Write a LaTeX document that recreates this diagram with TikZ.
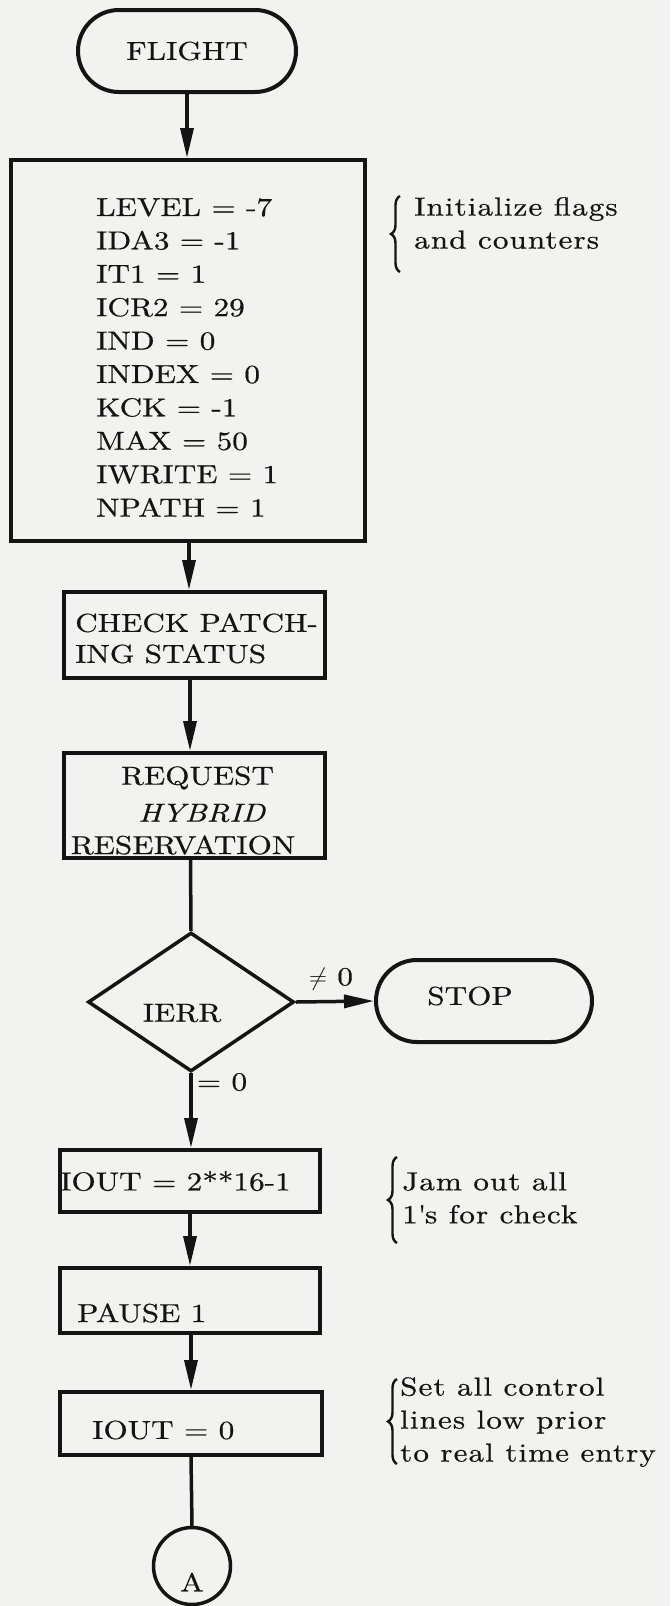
\documentclass[tikz,border=0pt]{standalone}
\usepackage{fontspec}
\setmainfont{lmroman10-regular}[Extension=.otf, ItalicFont=lmroman10-italic, FakeStretch=1.2, FakeBold=0.6]
\newfontfamily\notefont{lmroman10-regular}[Extension=.otf, FakeStretch=1.2, FakeBold=0.6, LetterSpace=4]
\usetikzlibrary{shapes.misc,shapes.geometric,arrows.meta,decorations.pathreplacing}
\definecolor{paper}{RGB}{242,242,240}
\definecolor{ink}{RGB}{20,20,20}
\begin{document}
\begin{tikzpicture}[x=1pt,y=-1pt,
  every node/.style={font=\fontsize{26}{33.4}\selectfont, inner sep=0pt, text=ink},
  boxnode/.style={draw=ink, line width=4pt, rectangle},
  termnode/.style={draw=ink, line width=4pt, rounded rectangle},
  decnode/.style={draw=ink, line width=3.5pt, diamond},
  connnode/.style={draw=ink, line width=3.5pt, circle},
  conn/.style={draw=ink, line width=3.5pt},
  arr/.style={conn, -{Triangle[length=30pt,width=13pt]}},
  notetext/.style={font=\notefont\fontsize{26}{33}\selectfont, align=left, anchor=north west},
  bracestyle/.style={draw=ink, line width=2.4pt, decorate, decoration={brace, amplitude=9pt}}
]
\fill[paper] (0,0) rectangle (670,1606);
\useasboundingbox (0,0) rectangle (670,1606);

% terminal FLIGHT
\node[termnode, minimum width=218pt, minimum height=82pt] (flight) at (187,51) {FLIGHT};

% init box
\node[boxnode, minimum width=354pt, minimum height=381pt] (init) at (188,350.5) {};
\node[align=left, anchor=north west, font=\fontsize{26}{33.4}\selectfont] (initvals) at (96,198)
  {LEVEL = -7\\IDA3 = -1\\IT1 = 1\\ICR2 = 29\\IND = 0\\INDEX = 0\\KCK = -1\\MAX = 50\\IWRITE = 1\\NPATH = 1};

% check box
\node[boxnode, minimum width=261pt, minimum height=86pt] (check) at (194.5,635) {};
\node[align=left, anchor=north west, font=\fontsize{26}{31}\selectfont] (checktext) at (75,613)
  {CHECK PATCH-\\ING STATUS};

% request box
\node[boxnode, minimum width=261pt, minimum height=105pt] (request) at (194.5,805.5) {};
\node (req1) at (197.5,778) {REQUEST};
\node (req2) at (202,813) {\textit{HYBRID}};
\node (req3) at (183,845) {RESERVATION};

% decision
\node[decnode, minimum width=206pt, minimum height=139pt] (ierr) at (191,1002) {};
\node (ierrtext) at (182,1013) {IERR};

% stop
\node[termnode, minimum width=216pt, minimum height=82pt] (stop) at (484,1001) {};
\node (stoptext) at (470,996) {STOP};

% IOUT boxes
\node[boxnode, minimum width=260pt, minimum height=62pt] (iouta) at (190,1181) {};
\node[anchor=west] (ioutatext) at (60,1181) {IOUT = 2**16-1};

\node[boxnode, minimum width=260pt, minimum height=65pt] (pause) at (190,1300.5) {};
\node[anchor=west] (pausetext) at (77,1313) {PAUSE 1};

\node[boxnode, minimum width=262pt, minimum height=63pt] (ioutb) at (191,1423.5) {};
\node[anchor=west] (ioutbtext) at (92,1430) {IOUT = 0};

% connector A
\node[connnode, minimum size=77pt] (conA) at (192,1566) {};
\node (conAtext) at (192,1582) {A};

% connectors
\draw[arr] (flight.south) -- (flight.south |- init.north);
\draw[arr] ([xshift=1pt]init.south) -- ([xshift=1pt]init.south |- check.north);
\draw[arr] ([xshift=-4.5pt]check.south) -- ([xshift=-4.5pt]check.south |- request.north);
\draw[conn] ([xshift=-4pt]request.south) -- (ierr.north);
\draw[arr] (ierr.east) -- (stop.west);
\draw[arr] (ierr.south) -- (ierr.south |- iouta.north);
\draw[arr] (iouta.south) -- (iouta.south |- pause.north);
\draw[arr] ([xshift=1pt]pause.south) -- ([xshift=1pt]pause.south |- ioutb.north);
\draw[conn] (ioutb.south) -- (conA.north);

% branch labels
\node (ne) at (331,979) {$\neq$ 0};
\node (eq) at (222,1082) {= 0};

% annotations
\node[notetext] (note1) at (414,197) {Initialize flags\\and counters};
\node[notetext] (note2) at (402,1172) {Jam out all\\1\textquotesingle s for check};
\node[notetext] (note3) at (400,1377) {Set all control\\lines low prior\\to real time entry};

\coordinate (b1t) at (400,196);
\coordinate (b1b) at (400,272);
\coordinate (b2t) at (397,1157);
\coordinate (b2b) at (397,1243);
\coordinate (b3t) at (397,1379);
\coordinate (b3b) at (397,1464);
\draw[bracestyle] (b1b) -- (b1t);
\draw[bracestyle] (b2b) -- (b2t);
\draw[bracestyle] (b3b) -- (b3t);
\end{tikzpicture}
\end{document}
